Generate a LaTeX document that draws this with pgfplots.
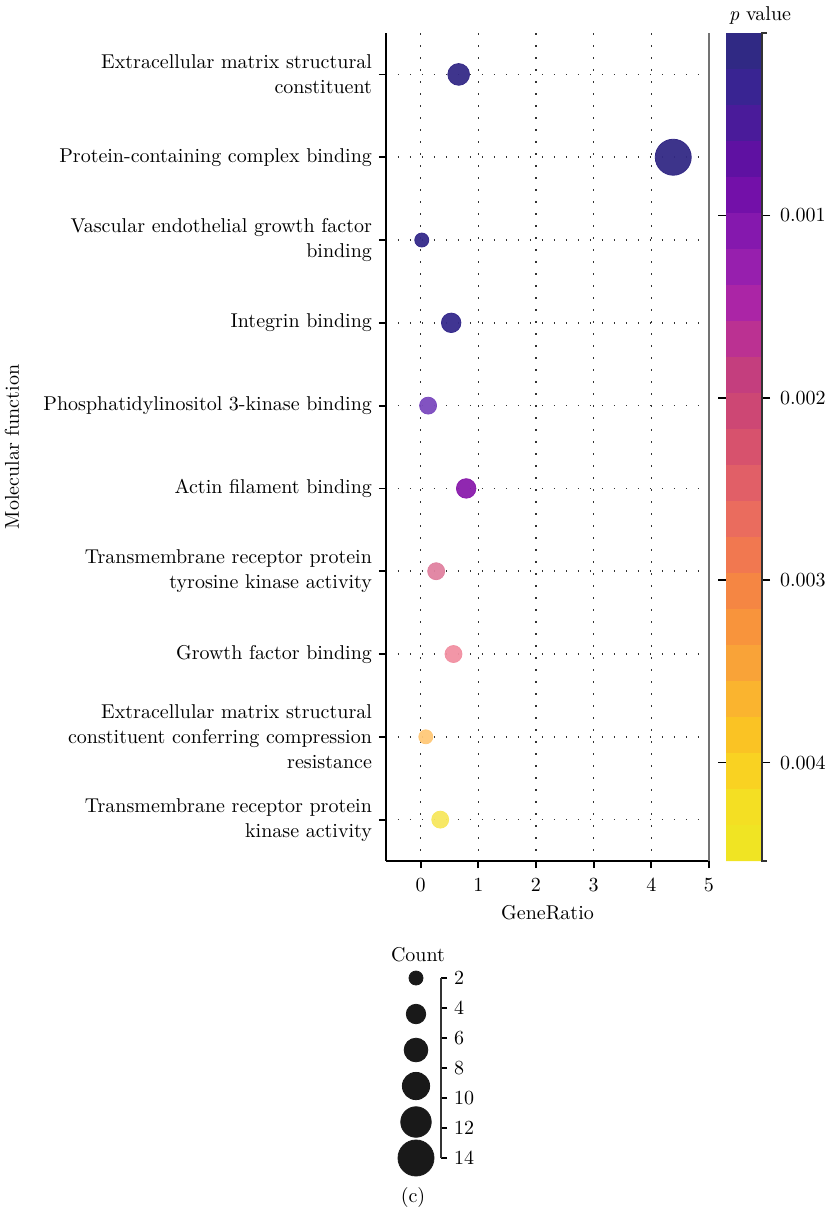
\documentclass[border=0pt]{standalone}
\usepackage{pgfplots}
\usepackage{pgfplotstable}
\pgfplotsset{compat=1.18}

\pgfplotstableread{
y x count p r g b
1 0.66 5 0.00010 0.208 0.165 0.529
2 4.38 14 0.00005 0.200 0.161 0.522
3 0.02 2 0.00020 0.208 0.165 0.541
4 0.53 4 0.00030 0.212 0.165 0.549
5 0.13 3 0.00090 0.482 0.290 0.745
6 0.79 4 0.00110 0.541 0.110 0.675
7 0.27 3 0.00210 0.878 0.510 0.627
8 0.57 3 0.00260 0.945 0.565 0.635
9 0.09 2 0.00370 1.000 0.784 0.471
10 0.34 3 0.00440 0.969 0.906 0.369
}\mfdata

\pgfplotstableread{
y count
2 2
4.4 4
6.8 6
9.2 8
11.6 10
14 14
}\legdata

\pgfplotsset{
  colormap={pval}{
    rgb255=(46,43,123) rgb255=(51,40,142) rgb255=(64,32,150) rgb255=(84,22,158)
    rgb255=(106,13,166) rgb255=(125,20,173) rgb255=(142,28,176) rgb255=(160,35,172)
    rgb255=(182,40,160) rgb255=(192,58,132) rgb255=(201,66,120) rgb255=(210,76,112)
    rgb255=(220,88,106) rgb255=(230,102,100) rgb255=(238,114,87) rgb255=(244,127,72)
    rgb255=(247,141,62) rgb255=(249,156,58) rgb255=(250,171,53) rgb255=(251,189,40)
    rgb255=(250,202,32) rgb255=(247,219,36) rgb255=(240,228,35) rgb255=(240,228,35)
  }
}

\begin{document}
\begin{tikzpicture}
\path[use as bounding box] (0,0) rectangle (413pt,-606pt);

\begin{axis}[
  at={(193pt,-430.5pt)}, anchor=south west,
  scale only axis, width=161.5pt, height=414pt,
  xmin=-0.6, xmax=5, ymin=0.5, ymax=10.5, y dir=reverse,
  xtick={0,1,2,3,4,5}, ytick={1,2,3,4,5,6,7,8,9,10},
  yticklabels={
    {Extracellular matrix structural\\constituent},
    {Protein-containing complex binding},
    {Vascular endothelial growth factor\\binding},
    {Integrin binding},
    {Phosphatidylinositol 3-kinase binding},
    {Actin filament binding},
    {Transmembrane receptor protein\\tyrosine kinase activity},
    {Growth factor binding},
    {Extracellular matrix structural\\constituent conferring compression\\resistance},
    {Transmembrane receptor protein\\kinase activity}},
  yticklabel style={align=right, font=\fontsize{10}{12.5}\selectfont},
  xticklabel style={yshift=-2pt},
  xlabel style={yshift=0pt},
  axis x line*=bottom, axis y line*=left,
  axis line style={line width=0.9pt, black},
  tick align=outside, major tick length=3.5pt,
  tick style={line width=0.9pt, black},
  grid=major, grid style={black!80, line width=0.75pt, dash pattern=on 0.75pt off 5.25pt},
  xlabel={GeneRatio},
  colormap name=pval,
  point meta min=0, point meta max=0.00454,
  colorbar sampled,
  colorbar style={
    samples=24,
    at={(parent axis.north east)}, anchor=north west, xshift=0pt,
    width=18pt,
    y dir=reverse,
    axis line style={draw=none},
    scaled y ticks=false,
    ytick={0.001,0.002,0.003,0.004},
    yticklabels={0.001,0.002,0.003,0.004},
    tick align=outside, major tick length=4pt,
    tick style={line width=0.8pt, black},
    yticklabel style={xshift=1.5pt},
    title={\textit{p} value},
    title style={at={(0,1)}, anchor=south west, xshift=-2pt, yshift=-5pt},
    extra description/.code={
      \draw[black!80, line width=0.8pt] ([xshift=2.5pt]1,0) -- (1,0) -- (1,1) -- ([xshift=2.5pt]1,1);
    },
  },
  clip=false,
]
\addplot[scatter, only marks, mark=*,
  point meta=\thisrow{p},
  visualization depends on={\thisrow{count}\as\cnt},
  visualization depends on={\thisrow{r}\as\colR},
  visualization depends on={\thisrow{g}\as\colG},
  visualization depends on={\thisrow{b}\as\colB},
  scatter/@pre marker code/.code={%
    \definecolor{mc}{rgb}{\colR,\colG,\colB}%
    \pgfmathsetmacro{\ms}{sqrt(12.7+91.7*\cnt)/4}%
    \scope[mark size=\ms pt, fill=mc, draw=mc, fill opacity=0.95]},
  scatter/@post marker code/.code={\endscope},
] table[x=x, y=y] {\mfdata};
\draw[black!55, line width=0.8pt] (axis cs:5,0.5) -- (axis cs:5,10.5);
\end{axis}

\begin{axis}[
  at={(193pt,-489pt)}, anchor=north west,
  scale only axis, width=27.5pt, height=90pt,
  xmin=-30, xmax=25, ymin=2, ymax=14, y dir=reverse,
  hide x axis, axis y line*=right,
  axis line style={line width=0.8pt, black!80},
  ytick={2,4,6,8,10,12,14},
  tick align=outside, major tick length=3pt,
  tick style={line width=0.8pt, black},
  clip=false,
]
\addplot[scatter, only marks, mark=*,
  point meta=\thisrow{count},
  visualization depends on={\thisrow{count}\as\cnt},
  scatter/@pre marker code/.code={%
    \pgfmathsetmacro{\ms}{sqrt(12.7+91.7*\cnt)/4}%
    \scope[mark size=\ms pt, fill=black!90, draw=black!90]},
  scatter/@post marker code/.code={\endscope},
] table[x expr=0, y=y] {\legdata};
\node at (axis cs:2,0.47) {Count};
\end{axis}

\node[rotate=90] at (6pt,-223.5pt) {Molecular function};
\node at (206.5pt,-598.5pt) {(c)};
\end{tikzpicture}
\end{document}
